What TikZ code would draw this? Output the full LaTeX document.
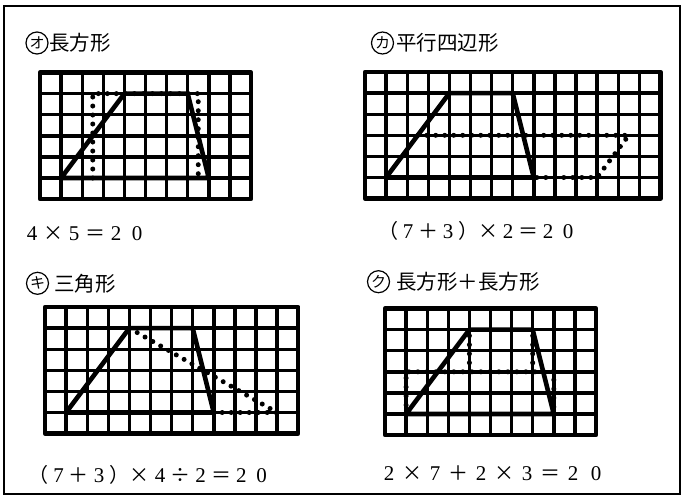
\documentclass[tikz,border=0pt]{standalone}
\usepackage{fontspec}
\newfontfamily\jp{Noto Sans CJK JP}
\newfontfamily\numf{Liberation Serif}
\newlength\fwpitch
\newcommand\fc[1]{\makebox[\fwpitch][c]{#1}}
\newcommand\dg[1]{\fc{\numf\fontsize{21}{21}\selectfont #1}}
\newcommand\op[1]{\fc{\jp\fontsize{20}{20}\selectfont #1}}
\newcommand\cellgrid[2]{%
  \foreach \i in {1,...,\numexpr#1-1\relax} \draw[gridline] (\i,0) -- (\i,#2);
  \foreach \j in {1,...,\numexpr#2-1\relax} \draw[gridline] (0,\j) -- (#1,\j);
  \draw[gridframe] (0,0) rectangle (#1,#2);}
\tikzset{
  gridline/.style={line width=3.4pt},
  gridframe/.style={line width=4.4pt, line join=round},
  trap/.style={line width=4.6pt, line join=round, line cap=round},
  dotline/.style={line width=5pt, line cap=round, dash pattern=on 0pt off 9pt},
  circ/.style={draw, circle, line width=1.2pt, minimum size=22pt, inner sep=0pt,
    font=\jp\fontsize{15}{15}\selectfont},
  ttl/.style={inner sep=0pt, anchor=west, font=\jp\fontsize{20.5}{20.5}\selectfont},
  frm/.style={inner sep=0pt, anchor=base west},
}
\begin{document}
\begin{tikzpicture}[x=1pt,y=-1pt]
\useasboundingbox (0,0) rectangle (683,499);
\fill[white] (0,0) rectangle (683,499);
\draw[line width=1.8pt] (4,6) rectangle (680,494);

% ---- panel 1
\node[circ] (c1) at (37,43) {オ};
\node[ttl] (t1) at (49,43) {長方形};
\begin{scope}[shift={(40,199.1)}, x=21.1pt, y=21.1pt]
  \cellgrid{10}{6}
  \draw[dotline] (2.5,1) -- (2.5,5) -- (7.5,5) -- (7.5,1);
  \draw[trap] (1,1) -- (8,1) -- (7,5) -- (4,5) -- cycle;
\end{scope}
\node[frm] (f1) at (21.5,240) {\setlength\fwpitch{21pt}\dg{4}\op{×}\dg{5}\op{＝}\dg{2}\dg{0}};

% ---- panel 2
\node[circ] (c2) at (382.5,43) {カ};
\node[ttl] (t2) at (396,43) {平行四辺形};
\begin{scope}[shift={(365,198.6)}, x=21.1pt, y=21.1pt]
  \cellgrid{14}{6}
  \draw[dotline] (2.5,3) -- (12.5,3) -- (11,1) -- (8,1);
  \draw[trap] (1,1) -- (8,1) -- (7,5) -- (4,5) -- cycle;
\end{scope}
\node[frm] (f2) at (378,238) {\setlength\fwpitch{20pt}\op{（}\dg{7}\op{＋}\dg{3}\op{）}\op{×}\dg{2}\op{＝}\dg{2}\dg{0}};

% ---- panel 3
\node[circ] (c3) at (37.5,283.3) {キ};
\node[ttl] (t3) at (54,283.3) {三角形};
\begin{scope}[shift={(45,433.6)}, x=21.1pt, y=21.1pt]
  \cellgrid{12}{6}
  \draw[dotline] (4,5) -- (11,1) -- (8,1);
  \draw[trap] (1,1) -- (8,1) -- (7,5) -- (4,5) -- cycle;
\end{scope}
\node[frm] (f3) at (28,482) {\setlength\fwpitch{20.3pt}\op{（}\dg{7}\op{＋}\dg{3}\op{）}\op{×}\dg{4}\op{÷}\dg{2}\op{＝}\dg{2}\dg{0}};

% ---- panel 4
\node[circ] (c4) at (378.5,281.7) {ク};
\node[ttl] (t4) at (396,281.7) {長方形＋長方形};
\begin{scope}[shift={(385,435.1)}, x=21.1pt, y=21.1pt]
  \cellgrid{10}{6}
  \draw[dotline] (1,1) -- (1,3) -- (8,3) -- (8,1);
  \draw[dotline] (4,3) -- (4,5);
  \draw[dotline] (7,3) -- (7,5);
  \draw[trap] (1,1) -- (8,1) -- (7,5) -- (4,5) -- cycle;
\end{scope}
\node[frm] (f4) at (377.5,480) {\setlength\fwpitch{23pt}\dg{2}\op{×}\dg{7}\op{＋}\dg{2}\op{×}\dg{3}\op{＝}\dg{2}\dg{0}};
\end{tikzpicture}
\end{document}
